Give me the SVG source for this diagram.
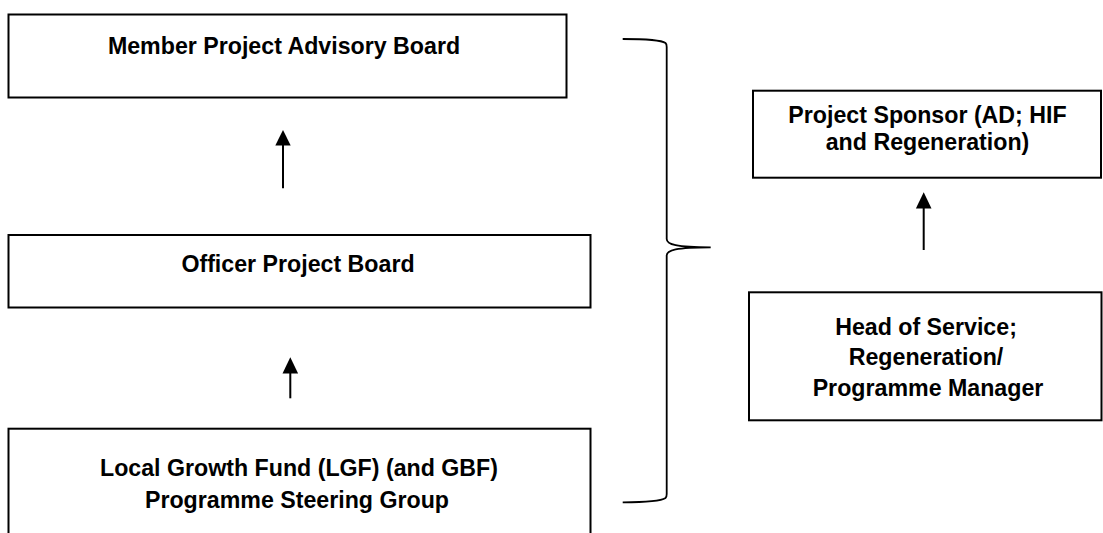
<svg xmlns="http://www.w3.org/2000/svg" width="1103" height="533" viewBox="0 0 1103 533">
  <style>
    .box { fill: #ffffff; stroke: #000000; stroke-width: 2; }
    .lbl { font-family: "Liberation Sans", Arial, sans-serif; font-weight: bold; font-size: 23.2px; fill: #000000; text-anchor: middle; }
    .conn { fill: none; stroke: #000000; stroke-width: 2; }
    .brace { fill: none; stroke: #000000; stroke-width: 1.8; }
  </style>
  <rect width="1103" height="533" fill="#ffffff"/>

  <g id="node-member-board">
    <rect class="box" x="8.5" y="14.5" width="558" height="83"/>
    <text class="lbl" x="284" y="54">Member Project Advisory Board</text>
  </g>

  <g id="node-officer-board">
    <rect class="box" x="8.5" y="235" width="582" height="72.5"/>
    <text class="lbl" x="298" y="272">Officer Project Board</text>
  </g>

  <g id="node-lgf-steering">
    <rect class="box" x="8.5" y="428.7" width="582" height="120"/>
    <text class="lbl" x="299" y="476">Local Growth Fund (LGF) (and GBF)</text>
    <text class="lbl" x="297" y="508">Programme Steering Group</text>
  </g>

  <g id="node-project-sponsor">
    <rect class="box" x="753" y="90.7" width="348" height="87"/>
    <text class="lbl" x="927.5" y="123">Project Sponsor (AD; HIF</text>
    <text class="lbl" x="927.5" y="150">and Regeneration)</text>
  </g>

  <g id="node-head-of-service">
    <rect class="box" x="749" y="292.3" width="352.5" height="128"/>
    <text class="lbl" x="926" y="335">Head of Service;</text>
    <text class="lbl" x="926" y="365">Regeneration/</text>
    <text class="lbl" x="928" y="396">Programme Manager</text>
  </g>

  <g id="connectors">
    <path class="conn" d="M283,188.3 V145"/>
    <path d="M283,130 L290.7,145.5 L275.3,145.5 Z" fill="#000000"/>
    <path class="conn" d="M290.3,398.3 V373"/>
    <path d="M290.3,357.3 L298.1,373.5 L282.5,373.5 Z" fill="#000000"/>
    <path class="conn" d="M923.7,250 V208"/>
    <path d="M923.7,192.3 L931.5,208.5 L915.9,208.5 Z" fill="#000000"/>
    <path class="brace" d="M622.7,39 C648,39 662,40.5 665.5,43 Q666.7,44 666.7,47 V239 C666.7,244.5 676,247.3 710.7,247.3 C676,247.3 666.7,250 666.7,255.5 V494 Q666.7,497 665.5,498 C662,500.5 648,502.3 622.7,502.3"/>
  </g>
</svg>
